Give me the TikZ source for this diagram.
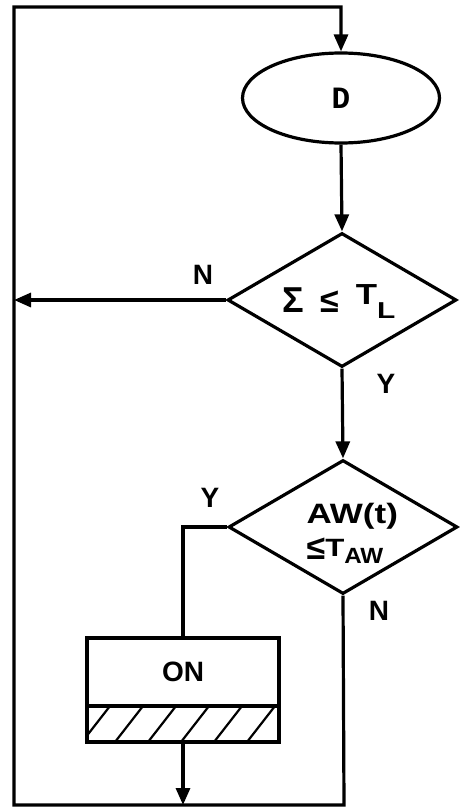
\documentclass[tikz,border=0pt]{standalone}
\usepackage{fontspec}
\setmainfont{Liberation Sans}
\newfontfamily\monofam{Liberation Mono}
\usetikzlibrary{shapes.geometric,arrows.meta}
\newcommand{\fs}[1]{\fontsize{#1}{#1}\selectfont}
\begin{document}
\begin{tikzpicture}[x=1pt,y=-1pt, line width=3.2pt,
  arr/.style={-{Triangle[length=17pt,width=14pt]}},
  lbl/.style={font=\bfseries\fs{28}, inner sep=0pt},
  dia/.style={draw, diamond, minimum width=229pt, minimum height=134pt, inner sep=0pt},
  boxpart/.style={draw, rectangle, minimum width=192pt, inner sep=0pt},
  hatchline/.style={line width=2.2pt}
  ]
\useasboundingbox (0,0) rectangle (459,808);
% nodes
\node[draw, ellipse, minimum width=197pt, minimum height=90pt, inner sep=0pt] (D) at (341,98)
  {\monofam\bfseries\fs{31}D};
\node[dia] (d1) at (342,300) {};
\node[inner sep=0pt, anchor=base west, font=\bfseries] (d1t) at (281,312)
  {\fs{36}Σ\hspace{16pt}\fs{34}≤\hspace{17pt}\raisebox{8pt}{\fs{29}\scalebox{1.2}[1]{T}}\smash{\raisebox{-6pt}{\fs{23}\scalebox{1.3}[1]{L}}}};
\node[dia] (d2) at (343,527) {};
\node[inner sep=0pt, anchor=west, align=left, font=\bfseries\fs{28}] (d2t) at (305,531)
  {\scalebox{1.25}[1]{AW(t)}\\[8pt]{\fs{34}≤\raisebox{3pt}{\fs{25}\scalebox{1.25}[1]{T}}\smash{\raisebox{-4pt}{\fs{22}\scalebox{1.1}[1]{AW}}}}};
\node[boxpart, minimum height=68pt, font=\bfseries\fs{28}] (on) at (183,672) {ON};
\node[boxpart, minimum height=36pt] (hatch) at (183,724) {};
\begin{scope}
  \clip (hatch.south west) rectangle (hatch.north east);
  \foreach \x in {82,115,148,181,214,247} {
    \draw[hatchline] (\x,742) -- (\x+28,706);
  }
\end{scope}
% labels
\node[lbl] (n1) at (203,275) {N};
\node[lbl] (y1) at (386,384) {Y};
\node[lbl] (y2) at (210,498) {Y};
\node[lbl] (n2) at (379,611) {N};
% coordinates
\coordinate (tl) at (14,7);
\coordinate (bl) at (14,805);
\coordinate (br) at (344,805);
\coordinate (la) at (14,300);
\coordinate (bj) at (183,805);
% connectors
\draw[arr] (d2.south) -- (br) -- (bl) -- (tl) -| (D.north);
\draw[arr] (D.south) -- (d1.north);
\draw[arr] (d1.west) -- (la);
\draw[arr] (d1.south) -- (d2.north);
\draw (d2.west) -| (on.north);
\draw[arr] (hatch.south) -- (bj);
\end{tikzpicture}
\end{document}
